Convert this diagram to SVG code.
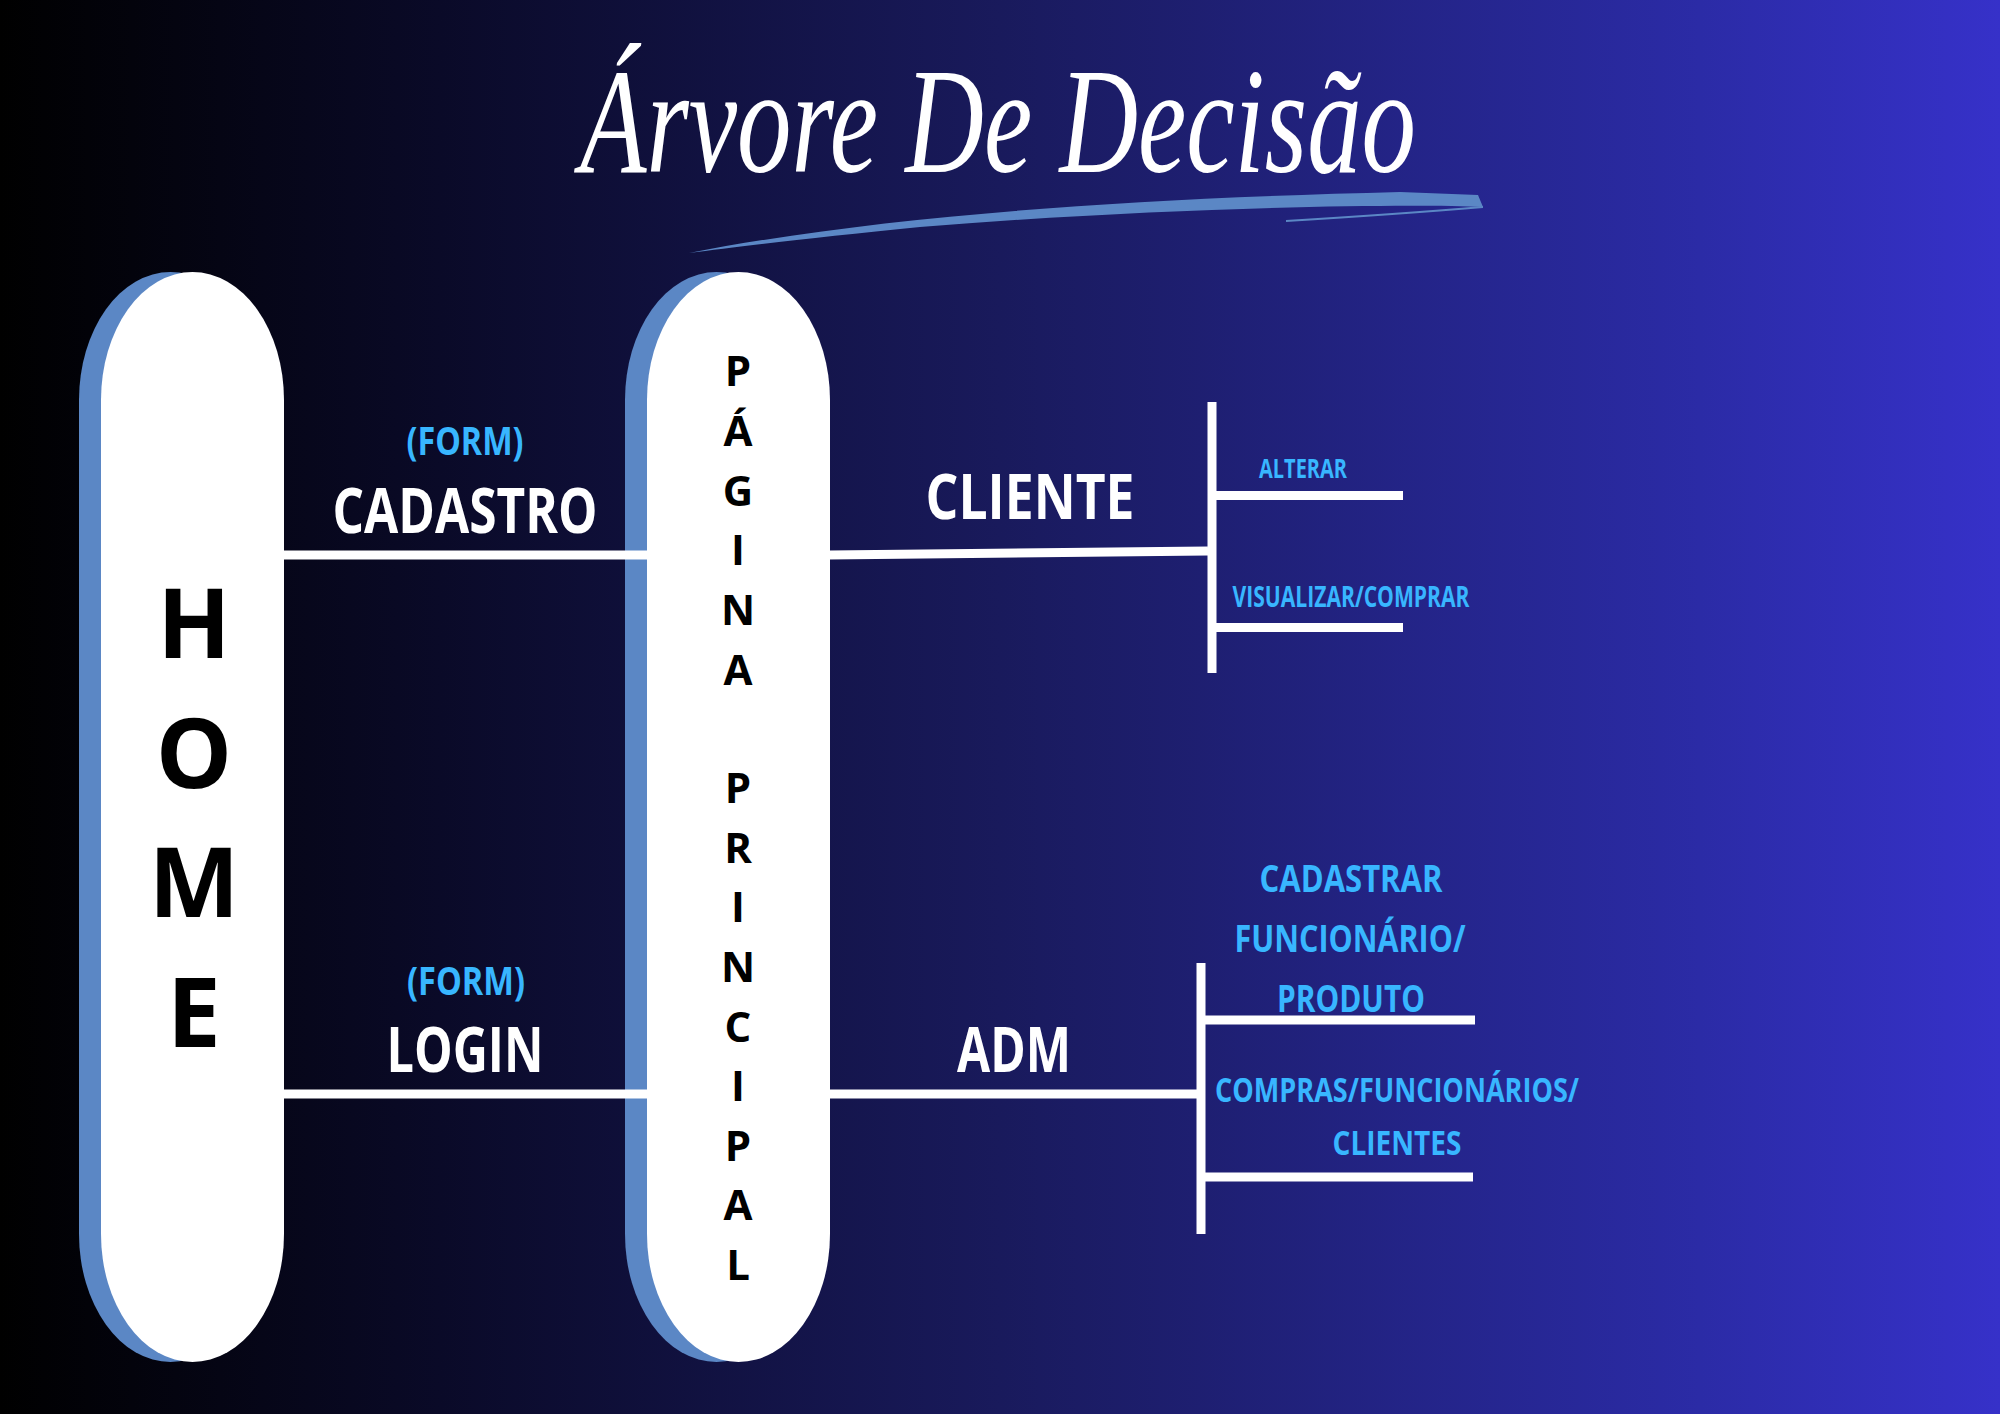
<svg xmlns="http://www.w3.org/2000/svg" width="2000" height="1414" viewBox="0 0 2000 1414">
  <defs>
    <linearGradient id="bg" x1="0" y1="0" x2="1" y2="0">
      <stop offset="0" stop-color="#000000"/>
      <stop offset="0.22" stop-color="#0a0a28"/>
      <stop offset="0.5" stop-color="#191a5c"/>
      <stop offset="0.85" stop-color="#2b2ba6"/>
      <stop offset="1" stop-color="#3631c9"/>
    </linearGradient>
    <style>
      .shadow { fill: #5b87c5; }
      .pill { fill: #ffffff; }
      .link { stroke: #ffffff; stroke-width: 9; fill: none; }
      .stack { font-family: "Open Sans", "Noto Sans", "DejaVu Sans", sans-serif; font-weight: 700; fill: #000000; text-anchor: middle; }
      .hand { font-family: "Open Sans", "Noto Sans", "DejaVu Sans", sans-serif; font-weight: 700; text-anchor: middle; }
      .big { fill: #ffffff; font-size: 62px; }
      .note { fill: #38b6ff; }
      .title { font-family: "Liberation Serif", "DejaVu Serif", serif; font-style: italic; fill: #ffffff; text-anchor: middle; }
    </style>
  </defs>

  <rect width="2000" height="1414" fill="url(#bg)"/>

  <!-- title with brush underline -->
  <g id="title">
    <path d="M689,253 C880,216 1120,199 1400,192 L1478,195 L1483,207 C1400,203 1150,208 920,227 C820,237 740,246 689,253 Z" fill="#5b87c5"/>
    <path d="M1483,207 Q1400,214 1286,221" stroke="#5b87c5" stroke-width="2" fill="none"/>
    <text class="title" x="998" y="172" font-size="150" textLength="836" lengthAdjust="spacingAndGlyphs">Árvore De Decisão</text>
  </g>

  <!-- HOME column -->
  <g id="home">
    <rect class="shadow" x="79" y="272" width="183" height="1090" rx="91.5" ry="128"/>
    <rect class="pill" x="101" y="272" width="183" height="1090" rx="91.5" ry="128"/>
    <text class="stack" font-size="96" x="194" y="658">H</text>
    <text class="stack" font-size="96" x="194" y="788">O</text>
    <text class="stack" font-size="96" x="194" y="917">M</text>
    <text class="stack" font-size="96" x="194" y="1047">E</text>
  </g>

  <!-- PAGINA PRINCIPAL column -->
  <g id="pagina-principal">
    <rect class="shadow" x="625" y="272" width="183" height="1090" rx="91.5" ry="128"/>
    <rect class="pill" x="647" y="272" width="183" height="1090" rx="91.5" ry="128"/>
    <g class="stack" font-size="42">
      <text x="738" y="386">P</text>
      <text x="738" y="446">Á</text>
      <text x="738" y="506">G</text>
      <text x="738" y="565">I</text>
      <text x="738" y="625">N</text>
      <text x="738" y="685">A</text>
      <text x="738" y="803">P</text>
      <text x="738" y="863">R</text>
      <text x="738" y="922">I</text>
      <text x="738" y="982">N</text>
      <text x="738" y="1042">C</text>
      <text x="738" y="1101">I</text>
      <text x="738" y="1161">P</text>
      <text x="738" y="1220">A</text>
      <text x="738" y="1280">L</text>
    </g>
  </g>

  <!-- connectors (drawn over the column edges) -->
  <g id="connectors">
    <line class="link" x1="284" y1="555" x2="648" y2="555"/>
    <line class="link" x1="284" y1="1094" x2="648" y2="1094"/>
    <line class="link" x1="829" y1="555" x2="1208" y2="551"/>
    <line class="link" x1="829" y1="1094" x2="1197" y2="1094"/>
    <line class="link" x1="1212" y1="402" x2="1212" y2="673"/>
    <line class="link" x1="1212" y1="495.5" x2="1403" y2="495.5"/>
    <line class="link" x1="1212" y1="627.5" x2="1403" y2="627.5"/>
    <line class="link" x1="1201" y1="963" x2="1201" y2="1234"/>
    <line class="link" x1="1201" y1="1020" x2="1475" y2="1020"/>
    <line class="link" x1="1201" y1="1177" x2="1473" y2="1177"/>
  </g>

  <!-- edge labels: home -> pagina -->
  <g id="cadastro">
    <text class="hand note" font-size="40" x="465" y="455" textLength="117" lengthAdjust="spacingAndGlyphs">(FORM)</text>
    <text class="hand big" x="465" y="533" textLength="265" lengthAdjust="spacingAndGlyphs">CADASTRO</text>
  </g>
  <g id="login">
    <text class="hand note" font-size="40" x="466" y="995" textLength="118" lengthAdjust="spacingAndGlyphs">(FORM)</text>
    <text class="hand big" x="465" y="1072" textLength="157" lengthAdjust="spacingAndGlyphs">LOGIN</text>
  </g>

  <!-- cliente branch -->
  <g id="cliente">
    <text class="hand big" x="1030" y="519" textLength="209" lengthAdjust="spacingAndGlyphs">CLIENTE</text>
  </g>
  <g id="alterar">
    <text class="hand note" font-size="26" x="1303" y="478" textLength="88" lengthAdjust="spacingAndGlyphs">ALTERAR</text>
  </g>
  <g id="visualizar-comprar">
    <text class="hand note" font-size="28" x="1351" y="607" textLength="237" lengthAdjust="spacingAndGlyphs">VISUALIZAR/COMPRAR</text>
  </g>

  <!-- adm branch -->
  <g id="adm">
    <text class="hand big" x="1014" y="1072" textLength="114" lengthAdjust="spacingAndGlyphs">ADM</text>
  </g>
  <g id="cadastrar">
    <text class="hand note" font-size="38" x="1351" y="892" textLength="183" lengthAdjust="spacingAndGlyphs">CADASTRAR</text>
    <text class="hand note" font-size="38" x="1350" y="952" textLength="231" lengthAdjust="spacingAndGlyphs">FUNCIONÁRIO/</text>
    <text class="hand note" font-size="38" x="1351" y="1012" textLength="148" lengthAdjust="spacingAndGlyphs">PRODUTO</text>
  </g>
  <g id="relatorios">
    <text class="hand note" font-size="34" x="1397" y="1102" textLength="364" lengthAdjust="spacingAndGlyphs">COMPRAS/FUNCIONÁRIOS/</text>
    <text class="hand note" font-size="34" x="1397" y="1155" textLength="129" lengthAdjust="spacingAndGlyphs">CLIENTES</text>
  </g>
</svg>
